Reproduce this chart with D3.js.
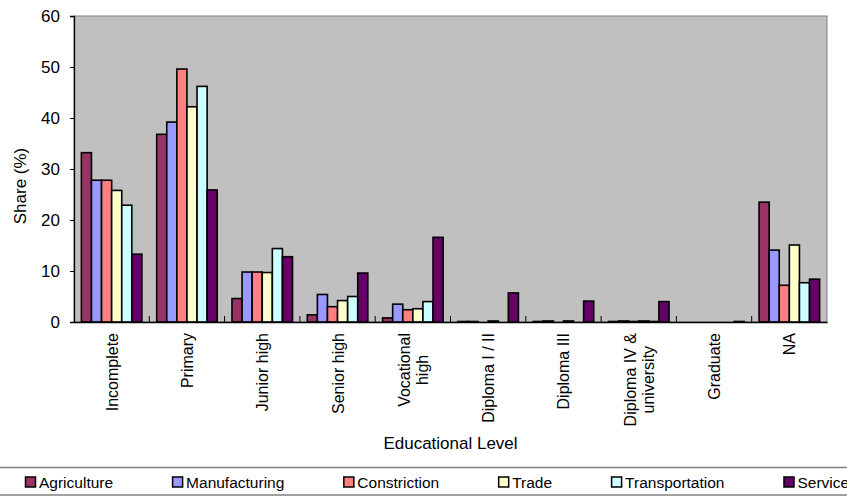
<!DOCTYPE html>
<html>
<head>
<meta charset="utf-8">
<script src="https://cdn.jsdelivr.net/npm/d3@7/dist/d3.min.js"></script>
<style>
  html, body { margin: 0; padding: 0; background: #ffffff; }
  svg { display: block; font-family: Arial, "Liberation Sans", sans-serif; }
</style>
</head>
<body>
<svg id="chart" width="847" height="501"></svg>
<script>
// ---- data ----
const categories = [
  ["Incomplete"], ["Primary"], ["Junior high"], ["Senior high"], ["Vocational", "high"],
  ["Diploma I / II"], ["Diploma III"], ["Diploma IV &", "university"], ["Graduate"], ["NA"]
];
const seriesNames = ["Agriculture", "Manufacturing", "Constriction", "Trade", "Transportation", "Services"];
const agriculture    = [33.2, 36.8, 4.6, 1.4, 0.8, 0.1, 0.1, 0.1, 0, 23.5];
const manufacturing  = [27.8, 39.2, 9.8, 5.4, 3.5, 0.1, 0.2, 0.2, 0, 14.1];
const constriction   = [27.8, 49.6, 9.8, 3.0, 2.4, 0, 0, 0.1, 0, 7.2];
const trade          = [25.8, 42.2, 9.7, 4.2, 2.6, 0.2, 0.2, 0.2, 0, 15.1];
const transportation = [22.9, 46.2, 14.4, 5.0, 4.0, 0, 0, 0.1, 0, 7.7];
const services       = [13.3, 25.9, 12.8, 9.6, 16.6, 5.7, 4.1, 4.0, 0.1, 8.4];
const yTicks = [0, 10, 20, 30, 40, 50, 60];
const colors = ["#993366", "#9999FF", "#FF8080", "#FFFFCC", "#CCFFFF", "#660066"];

const allSeries = [agriculture, manufacturing, constriction, trade, transportation, services];

// ---- layout ----
const svg = d3.select("#chart");
const pLeft = 74, pRight = 827, pTop = 16, pBottom = 322;

const x = d3.scaleBand().domain(d3.range(categories.length)).range([pLeft, pRight]).paddingInner(0.196).paddingOuter(0.098);
const xCat = d3.scaleBand().domain(d3.range(categories.length)).range([pLeft, pRight]);
const xs = d3.scaleBand().domain(d3.range(seriesNames.length)).range([0, x.bandwidth()]);
const y = d3.scaleLinear().domain([0, 60]).range([pBottom, pTop]);

// plot background
svg.append("rect").attr("x", pLeft).attr("y", pTop).attr("width", pRight - pLeft).attr("height", pBottom - pTop)
  .attr("fill", "#C0C0C0").attr("stroke", "#808080").attr("stroke-width", 1);

// bars
const groups = svg.selectAll("g.cat").data(categories).join("g").attr("class", "cat")
  .attr("transform", (d, i) => `translate(${xCat(i) + xCat.bandwidth() / 2 - x.bandwidth() / 2},0)`);
groups.selectAll("rect").data((d, i) => allSeries.map((s, j) => ({ j, v: s[i] })))
  .join("rect")
  .attr("x", d => xs(d.j))
  .attr("width", xs.bandwidth())
  .attr("y", d => y(d.v))
  .attr("height", d => y(0) - y(d.v))
  .attr("fill", d => colors[d.j])
  .attr("stroke", "#000")
  .attr("stroke-width", d => d.v > 0 ? 1.6 : 0);

// y axis
const yAxis = d3.axisLeft(y).tickValues(yTicks).tickSize(4).tickPadding(10);
const gy = svg.append("g").attr("transform", `translate(${pLeft},0)`).call(yAxis);
gy.select(".domain").attr("stroke", "#000").attr("stroke-width", 1.3);
gy.selectAll(".tick line").attr("stroke", "#000");
gy.selectAll(".tick text").attr("font-size", 17).attr("fill", "#000").attr("font-family", "Arial, 'Liberation Sans', sans-serif");

// x axis (ticks at category boundaries, inside)
const xAxis = d3.axisBottom(xCat).tickValues([]).tickSizeOuter(0);
const gx = svg.append("g").attr("transform", `translate(0,${pBottom})`).call(xAxis);
gx.select(".domain").attr("stroke", "#000").attr("stroke-width", 1.3);
gx.selectAll("line.bnd").data(d3.range(1, categories.length)).join("line").attr("class", "bnd")
  .attr("x1", i => xCat(i)).attr("x2", i => xCat(i)).attr("y1", 0).attr("y2", -6)
  .attr("stroke", "#000").attr("stroke-width", 1);

// x labels (rotated, multi-line centered)
const lineGap = 18;
categories.forEach((lines, i) => {
  const cx = xCat(i) + xCat.bandwidth() / 2;
  const g = svg.append("g");
  const texts = lines.map((t, k) => g.append("text").text(t).attr("font-size", 16).attr("fill", "#000"));
  const maxW = d3.max(texts, t => t.node().getComputedTextLength());
  const yc = 333 + maxW / 2;
  texts.forEach((t, k) => {
    const off = (k - (lines.length - 1) / 2) * lineGap;
    t.attr("text-anchor", "middle")
      .attr("transform", `translate(${cx + off + 6},${yc}) rotate(-90)`);
  });
});

// axis titles
svg.append("text").text("Educational Level").attr("x", (pLeft + pRight) / 2 + 0).attr("y", 449)
  .attr("text-anchor", "middle").attr("font-size", 17).attr("fill", "#000");
svg.append("text").text("Share (%)").attr("transform", `translate(26,${(pTop + pBottom) / 2 + 17}) rotate(-90)`)
  .attr("text-anchor", "middle").attr("font-size", 17).attr("fill", "#000");

// legend
svg.append("line").attr("x1", 0).attr("x2", 847).attr("y1", 467.5).attr("y2", 467.5).attr("stroke", "#808080").attr("stroke-width", 1.5);
svg.append("line").attr("x1", 0).attr("x2", 847).attr("y1", 495).attr("y2", 495).attr("stroke", "#808080").attr("stroke-width", 1.5);
let lx = 25;
seriesNames.forEach((name, j) => {
  svg.append("rect").attr("x", lx + 0.5).attr("y", 477).attr("width", 10).attr("height", 10)
    .attr("fill", colors[j]).attr("stroke", "#000").attr("stroke-width", 1.5);
  const t = svg.append("text").text(name).attr("x", lx + 14).attr("y", 488).attr("font-size", 15.5).attr("fill", "#000");
  lx = lx + 14 + t.node().getComputedTextLength() + 59;
});
</script>
</body>
</html>
